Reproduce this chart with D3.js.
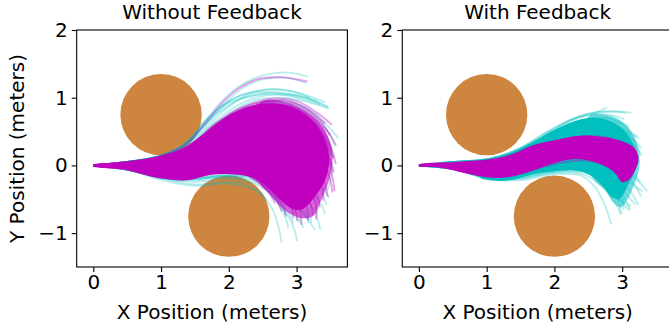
<!DOCTYPE html>
<html><head><meta charset="utf-8">
<script src="https://cdnjs.cloudflare.com/ajax/libs/d3/7.8.5/d3.min.js"></script>
<style>html,body{margin:0;padding:0;background:#fff;overflow:hidden}
text{font-family:"DejaVu Sans",sans-serif;fill:#000}</style></head><body>
<svg id="c" width="669" height="329"></svg>
<script>
const xTicks=[0,1,2,3], yTicks=[-1,0,1,2];
const titles=["Without Feedback","With Feedback"];
const xLabel="X Position (meters)", yLabel="Y Position (meters)";
const obstacles=[[1,0.75],[2,-0.75]];
const obstacleRadius=0.6;

const leftMass=[[0,0.012],[0.49,0.05],[0.98,0.14],[1.28,0.23],[1.57,0.42],[1.82,0.62],[2.11,0.8],[2.46,0.91],[2.85,0.89],[3.12,0.76],[3.33,0.55],[3.45,0.3],[3.48,0.05],[3.42,-0.22],[3.3,-0.42],[3.17,-0.58],[3.05,-0.66],[2.9,-0.62],[2.7,-0.45],[2.51,-0.27],[2.31,-0.17],[2.02,-0.13],[1.72,-0.14],[1.38,-0.22],[0.98,-0.19],[0.49,-0.07],[0,-0.012]];
const leftHaze=[[2.46,0.93],[2.85,0.93],[3.15,0.8],[3.38,0.58],[3.5,0.33],[3.53,0.05],[3.47,-0.25],[3.36,-0.52],[3.24,-0.75],[3.1,-0.78],[2.95,-0.74],[2.78,-0.62],[2.6,-0.42],[2.45,-0.25]];
const leftCyan=[
[[0,0],[0.5,0.05],[1,0.14],[1.38,0.35],[1.62,0.62],[1.87,0.92],[2.11,1.14],[2.41,1.3],[2.65,1.36],[2.9,1.37],[3.17,1.31]],
[[0,0],[0.5,0.05],[1,0.14],[1.4,0.34],[1.65,0.6],[1.95,0.92],[2.2,1.14],[2.5,1.27],[2.8,1.3],[3.14,1.22]],
[[0,0],[0.5,0.05],[1,0.14],[1.4,0.33],[1.7,0.6],[2,0.87],[2.3,1.05],[2.6,1.12],[3,1.08],[3.42,0.93]],
[[0,0],[0.5,0.05],[1,0.14],[1.4,0.32],[1.72,0.58],[2.05,0.84],[2.35,0.99],[2.7,1.05],[3.1,1],[3.48,0.85]],
[[0,0],[0.5,0.05],[1,0.14],[1.42,0.3],[1.75,0.57],[2.1,0.83],[2.4,0.97],[2.75,1],[3.1,0.95],[3.47,0.84]],
[[0,0],[0.5,0.05],[1,0.13],[1.42,0.3],[1.8,0.6],[2.15,0.82],[2.5,0.94],[2.9,0.95],[3.25,0.78],[3.62,0.4]],
[[0,0],[0.5,0.05],[1,0.13],[1.45,0.3],[1.8,0.57],[2.2,0.8],[2.6,0.92],[3,0.88],[3.35,0.65],[3.58,0.28]],
[[0,0],[0.5,0.05],[1,0.12],[1.45,0.27],[1.85,0.56],[2.2,0.78],[2.6,0.88],[3,0.82],[3.35,0.55],[3.55,0.12]],
[[0,0],[0.5,0.05],[1,0.15],[1.25,0.25],[1.45,0.38],[1.62,0.62],[1.9,0.88],[2.3,1.02],[2.7,1.08],[3.3,0.95]],
[[0,0],[0.5,0.05],[1,0.14],[1.2,0.2],[1.45,0.42],[1.7,0.7],[2,0.95],[2.4,1.1],[2.8,1.12],[3.2,1]],
[[0,0],[0.5,0.05],[1,0.14],[1.3,0.27],[1.55,0.5],[1.8,0.76],[2.1,1],[2.4,1.08],[2.8,1.06],[3.1,1.02],[3.46,0.87]],
[[0,0],[0.5,0.05],[1,0.14],[1.35,0.3],[1.6,0.55],[1.85,0.78],[2.15,0.97],[2.5,1.05],[2.9,1.02],[3.35,0.9]],
[[0,0],[0.5,0.05],[1,0.12],[1.5,0.25],[2,0.65],[2.4,0.88],[2.8,0.93],[3.2,0.7],[3.45,0.3],[3.52,-0.1],[3.45,-0.38]],
[[0,0],[0.5,-0.06],[0.95,-0.2],[1.47,-0.3],[2.02,-0.27],[2.46,-0.41],[2.65,-0.66],[2.73,-0.9],[2.78,-1.14]],
[[0,0],[0.5,-0.06],[1,-0.19],[1.5,-0.24],[2.02,-0.2],[2.45,-0.3],[2.75,-0.58],[2.93,-0.85],[3.01,-1.12]],
[[0,0],[0.5,-0.06],[1,-0.18],[1.5,-0.22],[2,-0.17],[2.5,-0.3],[2.72,-0.55],[2.84,-0.78],[2.88,-0.93]],
[[0,0],[0.5,-0.06],[1,-0.19],[1.5,-0.28],[2.1,-0.25],[2.4,-0.36],[2.55,-0.5]],
[[0,0],[0.5,-0.06],[1,-0.18],[1.5,-0.2],[2,-0.16],[2.5,-0.2],[2.85,-0.42],[3.1,-0.7],[3.27,-0.95]],
[[0,0],[0.5,-0.06],[1,-0.17],[1.5,-0.18],[2,-0.13],[2.5,-0.15],[2.95,-0.35],[3.25,-0.65],[3.35,-0.95]],
[[0,0],[0.5,-0.06],[1,-0.17],[1.5,-0.19],[2,-0.15],[2.5,-0.2],[2.8,-0.45],[3,-0.7],[3.1,-0.92]],
[[0,0],[0.5,-0.06],[1,-0.17],[1.5,-0.2],[2,-0.16],[2.5,-0.25],[2.7,-0.45],[2.88,-0.7],[2.95,-0.85]],
[[0,0],[0.5,-0.06],[1,-0.17],[1.5,-0.18],[2,-0.14],[2.5,-0.18],[2.9,-0.42],[3.1,-0.65],[3.18,-0.85]],
[[0,0],[0.5,-0.06],[1,-0.16],[1.5,-0.15],[2,-0.1],[2.6,-0.08],[3.1,-0.3],[3.35,-0.55],[3.42,-0.72]],
[[0,0],[0.5,-0.05],[1,-0.14],[1.5,-0.12],[2,-0.05],[2.6,0],[3.15,-0.12],[3.4,-0.35],[3.48,-0.48]],
[[2.3,-0.18],[2.6,-0.34],[2.78,-0.6],[2.86,-0.76]],
[[2.4,-0.2],[2.7,-0.4],[2.92,-0.64],[3.04,-0.84]],
[[2.5,-0.2],[2.85,-0.44],[3.05,-0.66],[3.14,-0.78]],
[[2.5,-0.15],[2.95,-0.38],[3.15,-0.6],[3.22,-0.84]],
[[2.6,-0.1],[3.05,-0.32],[3.28,-0.55],[3.3,-0.72]],
[[2.7,-0.05],[3.2,-0.2],[3.38,-0.42],[3.44,-0.58]]
];
const leftMagenta=[
[[0,0],[0.5,0.05],[1,0.14],[1.4,0.34],[1.65,0.62],[1.9,0.92],[2.15,1.14],[2.45,1.28],[2.8,1.3],[3.16,1.24]],
[[0,0],[0.5,0.05],[1,0.13],[1.42,0.3],[1.8,0.62],[2.2,0.86],[2.6,0.98],[3,0.95],[3.3,0.78],[3.52,0.6]],
[[0,0],[0.5,0.05],[1,0.13],[1.45,0.3],[1.8,0.6],[2.2,0.85],[2.6,0.95],[3,0.9],[3.35,0.65],[3.58,0.3]],
[[0,0],[0.5,0.05],[1,0.12],[1.45,0.28],[1.85,0.58],[2.2,0.8],[2.6,0.9],[3,0.82],[3.4,0.5],[3.58,0.02]],
[[0,0],[0.5,0.04],[1,0.1],[1.5,0.25],[2,0.6],[2.5,0.85],[3,0.7],[3.4,0.3],[3.56,-0.38]],
[[2.4,0.9],[2.8,0.96],[3.15,0.84],[3.42,0.62]],
[[2.5,0.88],[2.9,0.88],[3.25,0.7],[3.5,0.45]],
[[2.6,0.85],[3.0,0.8],[3.32,0.55],[3.52,0.22]],
[[2.7,0.8],[3.1,0.68],[3.38,0.4],[3.55,0.1]],
[[2.8,0.7],[3.2,0.5],[3.44,0.2],[3.55,-0.1]],
[[2.8,0.4],[3.25,0.2],[3.46,-0.1],[3.53,-0.4]],
[[2.8,0.3],[3.22,0.05],[3.4,-0.22],[3.46,-0.46]],
[[2.8,0.2],[3.2,-0.05],[3.38,-0.32],[3.39,-0.52]],
[[2.8,0.1],[3.15,-0.15],[3.3,-0.42],[3.34,-0.62]],
[[2.7,0],[3.1,-0.22],[3.27,-0.5],[3.29,-0.8]],
[[2.7,-0.05],[3.05,-0.3],[3.2,-0.55],[3.24,-0.74]],
[[2.6,-0.1],[2.98,-0.36],[3.14,-0.6],[3.17,-0.81]],
[[2.55,-0.12],[2.92,-0.4],[3.05,-0.66],[3.07,-0.88]],
[[2.5,-0.15],[2.85,-0.44],[2.98,-0.64],[3.01,-0.82]],
[[2.45,-0.18],[2.75,-0.42],[2.92,-0.62],[2.95,-0.78]],
[[2.4,-0.2],[2.66,-0.42],[2.8,-0.6],[2.84,-0.74]],
[[2.35,-0.18],[2.58,-0.36],[2.72,-0.54],[2.78,-0.68]],
[[2.3,-0.16],[2.5,-0.3],[2.62,-0.44],[2.68,-0.56]]
];

const rightCyanHaze=[[2.5,0.72],[2.8,0.74],[3.02,0.63],[3.18,0.42],[3.24,0.2],[3.25,-0.05],[3.17,-0.3],[3.08,-0.5],[2.98,-0.62],[2.88,-0.56],[2.74,-0.36],[2.55,-0.16]];
const rightCyanMass=[[0.85,-0.02],[0.9,0.08],[1.05,0.1],[1.34,0.18],[1.69,0.35],[2.03,0.54],[2.38,0.68],[2.72,0.69],[2.98,0.56],[3.14,0.36],[3.2,0.18],[3.2,-0.05],[3.1,-0.26],[3.02,-0.42],[2.95,-0.5],[2.84,-0.46],[2.72,-0.31],[2.52,-0.14],[2.28,-0.07],[1.98,-0.09],[1.69,-0.13],[1.34,-0.22],[1.05,-0.22],[0.9,-0.18]];
const rightMagentaMass=[[0,0.012],[0.56,0.05],[1.05,0.09],[1.34,0.15],[1.69,0.3],[2.03,0.38],[2.38,0.44],[2.72,0.42],[3.02,0.35],[3.19,0.25],[3.24,0.08],[3.19,-0.07],[3.09,-0.22],[2.99,-0.24],[2.92,-0.14],[2.77,-0.02],[2.52,0.07],[2.28,0.09],[1.98,0.03],[1.69,-0.07],[1.34,-0.17],[1.05,-0.18],[0.7,-0.12],[0.31,-0.03],[0,-0.012]];
const rightCyan=[
[[0,0],[0.5,0.05],[1.05,0.1],[1.5,0.26],[1.9,0.5],[2.25,0.68],[2.55,0.76],[2.77,0.85]],
[[0,0],[0.5,0.05],[1.05,0.1],[1.5,0.26],[1.9,0.5],[2.3,0.7],[2.6,0.78],[2.9,0.8],[3.05,0.78]],
[[0,0],[0.5,0.05],[1.05,0.1],[1.5,0.24],[1.95,0.5],[2.35,0.7],[2.65,0.76],[2.9,0.73],[3.03,0.68]],
[[0,0],[0.5,0.05],[1.05,0.1],[1.5,0.25],[1.95,0.5],[2.35,0.72],[2.65,0.79],[2.95,0.79],[3.14,0.78]],
[[0,0],[0.5,0.05],[1.05,0.09],[1.5,0.22],[2,0.5],[2.4,0.67],[2.7,0.72],[2.95,0.64],[3.15,0.48],[3.25,0.4]],
[[0,0],[0.5,0.05],[1.05,0.09],[1.5,0.22],[2,0.48],[2.4,0.64],[2.7,0.68],[3,0.56],[3.2,0.35],[3.28,0.25]],
[[0,0],[0.5,0.05],[1.05,0.09],[1.5,0.2],[2,0.45],[2.4,0.6],[2.75,0.62],[3.05,0.48],[3.22,0.28],[3.26,0.12]],
[[0,0],[0.5,0.05],[1.05,0.09],[1.5,0.2],[2,0.44],[2.4,0.58],[2.75,0.6],[3.05,0.42],[3.2,0.2],[3.26,0.03]],
[[2.4,0.65],[2.75,0.7],[3.0,0.62],[3.1,0.57]],
[[2.5,0.62],[2.85,0.62],[3.1,0.48],[3.21,0.42]],
[[2.6,0.55],[2.95,0.5],[3.18,0.3],[3.29,0.15]],
[[0,0],[0.5,-0.05],[1.05,-0.2],[1.5,-0.22],[2,-0.13],[2.4,-0.15],[2.6,-0.32],[2.75,-0.6],[2.84,-0.87]],
[[0,0],[0.5,-0.05],[1.05,-0.2],[1.5,-0.2],[2,-0.11],[2.4,-0.12],[2.7,-0.3],[2.88,-0.52],[2.98,-0.72]],
[[0,0],[0.5,-0.05],[1.05,-0.2],[1.5,-0.19],[2,-0.1],[2.45,-0.1],[2.75,-0.27],[2.97,-0.52],[3.1,-0.66]],
[[0,0],[0.5,-0.05],[1.05,-0.19],[1.5,-0.17],[2,-0.08],[2.5,-0.06],[2.85,-0.2],[3.05,-0.42],[3.2,-0.58]],
[[0,0],[0.5,-0.05],[1.05,-0.18],[1.5,-0.15],[2,-0.06],[2.5,-0.03],[2.9,-0.12],[3.15,-0.28],[3.3,-0.38]],
[[0,0],[0.5,-0.05],[1.05,-0.18],[1.5,-0.14],[2,-0.05],[2.5,-0.01],[2.95,-0.08],[3.2,-0.2],[3.37,-0.38]],
[[0,0],[0.5,-0.05],[1.05,-0.18],[1.5,-0.15],[2,-0.07],[2.5,-0.08],[2.85,-0.25],[3,-0.48],[3.02,-0.66]],
[[0,0],[0.5,-0.05],[1.05,-0.2],[1.5,-0.18],[2,-0.09],[2.5,-0.1],[2.8,-0.3],[2.95,-0.5],[3.13,-0.6]],
[[2.5,-0.1],[2.78,-0.28],[2.93,-0.5],[2.99,-0.72]],
[[2.5,-0.08],[2.85,-0.24],[3.02,-0.46],[3.12,-0.66]],
[[2.6,-0.05],[2.95,-0.18],[3.12,-0.38],[3.24,-0.58]],
[[2.6,0],[3.0,-0.1],[3.18,-0.28],[3.28,-0.46]],
[[2.7,0.05],[3.05,-0.04],[3.2,-0.16],[3.27,-0.25]]
];
const rightMagenta=[
[[0,0],[0.5,0.04],[1.05,0.08],[1.5,0.2],[2,0.35],[2.5,0.43],[2.9,0.38],[3.15,0.25],[3.24,0.1]],
[[0,0],[0.5,-0.05],[1.05,-0.17],[1.5,-0.12],[2,0.02],[2.5,0.07],[2.85,-0.06],[3.02,-0.26]]
];

const W=270.7,H=237,T=30;
const panels=[
 {left:76.7,layers:[["#bf00bf",leftHaze,0.6,0],["#bf00bf",leftMass,1,1]],cyan:leftCyan,magenta:leftMagenta},
 {left:402.3,layers:[["#00bfbf",rightCyanHaze,0.55,0],["#00bfbf",rightCyanMass,1,0],["#bf00bf",rightMagentaMass,1,1]],cyan:rightCyan,magenta:rightMagenta}
];
const svg=d3.select("#c");
const FS="20px";
panels.forEach((p,i)=>{
  const x=d3.scaleLinear().domain([-0.245,3.75]).range([p.left,p.left+W]);
  const y=d3.scaleLinear().domain([-1.5,2]).range([T+H,T]);
  const clip="clip"+i;
  svg.append("clipPath").attr("id",clip).append("rect").attr("x",p.left).attr("y",T).attr("width",W).attr("height",H);
  const g=svg.append("g").attr("clip-path",`url(#${clip})`);
  const sx=x(1)-x(0);
  g.selectAll(".o").data(obstacles).join("circle").attr("cx",d=>x(d[0])).attr("cy",d=>y(d[1])).attr("r",obstacleRadius*sx).attr("fill","#cd853f");
  const line=d3.line().x(d=>x(d[0])).y(d=>y(d[1])).curve(d3.curveCatmullRom);
  const closed=d3.line().x(d=>x(d[0])).y(d=>y(d[1])).curve(d3.curveCatmullRomClosed);
  const draw=(data,col,op)=>g.append("g").selectAll("path").data(data).join("path").attr("d",line).attr("fill","none").attr("stroke",col).attr("stroke-width",1.9).attr("stroke-opacity",op);
  draw(p.cyan,"#00bfbf",0.27);
  p.layers.forEach(([col,pts,op,withMagenta])=>{
    if(withMagenta) draw(p.magenta,"#bf00bf",0.36);
    g.append("path").attr("d",closed(pts)).attr("fill",col).attr("fill-opacity",op);
  });
  const ax=svg.append("g").attr("transform",`translate(0,${T+H})`).call(d3.axisBottom(x).tickValues(xTicks).tickFormat(d3.format("d")).tickSize(5).tickPadding(3));
  const ay=svg.append("g").attr("transform",`translate(${p.left},0)`).call(d3.axisLeft(y).tickValues(yTicks).tickFormat(d=>d<0?"\u2212"+(-d):d).tickSize(5).tickPadding(4));
  [ax,ay].forEach(a=>{a.selectAll("text").style("font-size",FS).style("font-family",'"DejaVu Sans"');a.selectAll("line").attr("stroke","#000").attr("stroke-width",1.1);a.select(".domain").remove();});
  svg.append("rect").attr("x",p.left).attr("y",T).attr("width",W).attr("height",H).attr("fill","none").attr("stroke","#000").attr("stroke-width",1.1);
  svg.append("text").attr("x",p.left+W/2).attr("y",19).attr("text-anchor","middle").style("font-size",FS).text(titles[i]);
  svg.append("text").attr("x",p.left+W/2).attr("y",319).attr("text-anchor","middle").style("font-size",FS).text(xLabel);
});
svg.append("text").attr("transform","translate(24,148.5) rotate(-90)").attr("text-anchor","middle").style("font-size",FS).text(yLabel);
</script></body></html>
